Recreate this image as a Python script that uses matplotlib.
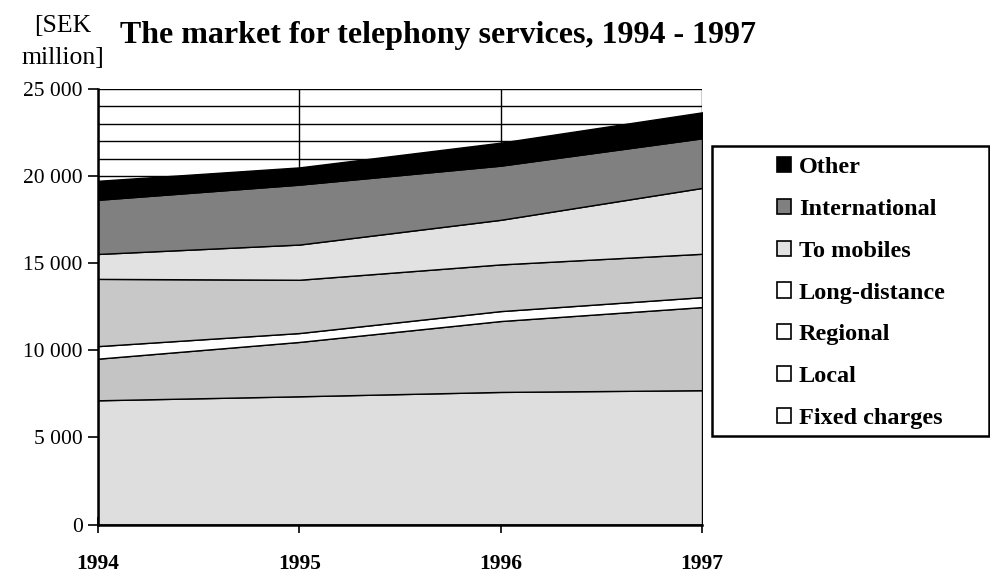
import matplotlib
matplotlib.use("Agg")
import matplotlib.pyplot as plt
from matplotlib.patches import Patch, Rectangle
from matplotlib.ticker import MultipleLocator, FuncFormatter

plt.rcParams['font.family'] = ['Liberation Serif', 'DejaVu Serif']

years = [1994, 1995, 1996, 1997]

# SEK million per segment, stacked bottom to top
fixed_charges = [7130, 7360, 7610, 7710]
local = [2390, 3120, 4070, 4770]
regional = [720, 510, 570, 570]
long_distance = [3860, 3060, 2680, 2490]
to_mobiles = [1430, 2020, 2560, 3780]
international = [3110, 3440, 3110, 2850]
other = [1090, 990, 1320, 1490]

series = [fixed_charges, local, regional, long_distance, to_mobiles, international, other]
labels = ["Fixed charges", "Local", "Regional", "Long-distance", "To mobiles", "International", "Other"]
fill_colors = ["#dedede", "#c4c4c4", "#ffffff", "#c8c8c8", "#e2e2e2", "#808080", "#000000"]
legend_colors = ["#ffffff", "#ffffff", "#ffffff", "#ffffff", "#e2e2e2", "#808080", "#000000"]

fig = plt.figure(figsize=(9.9, 5.74), dpi=100)
ax = fig.add_axes([98 / 990, 1 - 524.5 / 574, (702 - 98) / 990, (524.5 - 89) / 574])

ax.stackplot(years, *series, colors=fill_colors, edgecolor="black", linewidth=1.0, zorder=2)

ax.set_xlim(1994, 1997)
ax.set_ylim(0, 25000)

ax.yaxis.set_major_locator(MultipleLocator(5000))
ax.yaxis.set_minor_locator(MultipleLocator(1000))
ax.yaxis.set_major_formatter(FuncFormatter(lambda v, p: f"{int(v):,}".replace(",", " ")))
ax.set_xticks(years)
ax.set_xticklabels([str(y) for y in years], fontweight="bold", fontsize=15.5)

ax.set_axisbelow(True)
ax.grid(True, which="both", axis="y", color="black", linewidth=1.0)
ax.grid(True, which="major", axis="x", color="black", linewidth=1.0)

ax.tick_params(axis="y", which="major", direction="out", length=7, width=1.2, labelsize=15.5, pad=4)
ax.tick_params(axis="y", which="minor", length=0)
ax.tick_params(axis="x", which="major", direction="inout", length=12, width=1.2, pad=15.5)

for s in ("top", "right"):
    ax.spines[s].set_visible(False)
ax.spines["left"].set_linewidth(1.8)
ax.spines["bottom"].set_linewidth(1.8)
ax.spines["left"].set_zorder(5)
ax.spines["bottom"].set_zorder(5)

# Title and unit label
fig.text(120 / 990, 1 - 43 / 574, "The market for telephony services, 1994 - 1997",
         fontsize=23, fontweight="bold", ha="left", va="baseline")
fig.text(62.5 / 990, 1 - 31.7 / 574, "[SEK", fontsize=18.5, ha="center", va="baseline")
fig.text(62.5 / 990, 1 - 64.5 / 574, "million]", fontsize=18.5, ha="center", va="baseline")

# Legend frame and entries (top entry is the top layer)
frame = Rectangle((712 / 990, 1 - 435.5 / 574), (989 - 712) / 990, (435.5 - 145.5) / 574,
                  transform=fig.transFigure, facecolor="white", edgecolor="black",
                  linewidth=1.8, zorder=1)
fig.patches.append(frame)

handles = [Patch(facecolor=c, edgecolor="black", linewidth=1.2)
           for c in reversed(legend_colors)]
leg = fig.legend(handles, list(reversed(labels)), loc="upper left",
                 bbox_to_anchor=(760 / 990, 1 - 140 / 574), frameon=False,
                 prop={"weight": "bold", "size": 17.5}, labelspacing=0.85,
                 handlelength=0.58, handleheight=0.58, handletextpad=0.32,
                 borderpad=0.2)

fig.savefig("out.png", dpi=100)
